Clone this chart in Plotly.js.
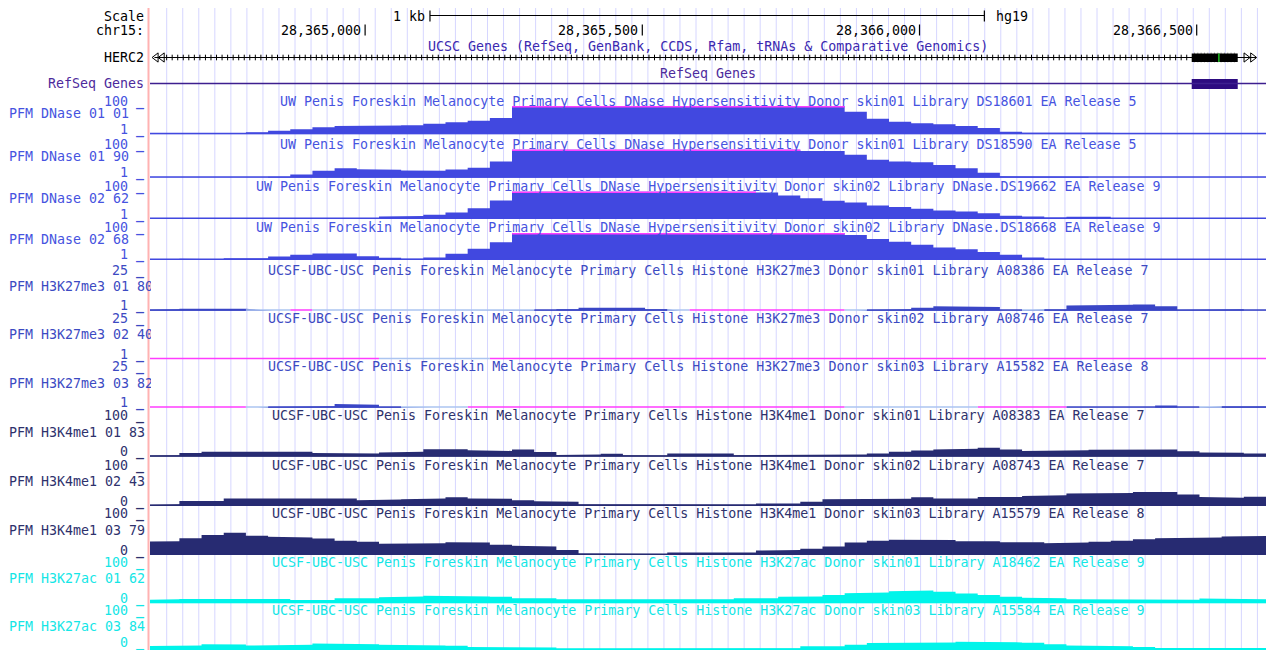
<!DOCTYPE html>
<html>
<head>
<meta charset="utf-8">
<script src="https://cdn.plot.ly/plotly-3.0.1.min.js"></script>
<style>
  html, body { margin: 0; padding: 0; background: #fff; overflow: hidden; }
  #browser { width: 1270px; height: 650px; }
</style>
</head>
<body>
<div id="browser"></div>
<script>
// ---- genome window (hg19, chr15) ----
const assembly = 'hg19';
const chrom = 'chr15';
const viewStart = 28364612;
const viewEnd = 28366625;
const coordTicks = [28365000, 28365500, 28366000, 28366500];
const scaleBarStart = 28365117;
const scaleBarLength = 1000;

// ---- gene annotation (HERC2, minus strand, runs past both window edges) ----
const geneName = 'HERC2';
const geneExons = [[28366491, 28366574]];
const geneMarks = [28366540];

// ---- signal tracks: fixed-step bins, null = no data ----
const binStart = 28364585;
const binSize = 40;

const dnase0101 = [3,3,3,2,3,8,13,19,26,30,30,32,33,38,43,48,58,
  100,100,100,100,100,100,100,100,100,100,100,100,100,100,100,
  80,55,45,40,36,30,23,10,6,4,6,6,3,2,1,1,1,1,1];
const dnase0190 = [1,1,1,1,1,2,4,12,25,34,31,29,26,25,30,36,58,
  100,100,100,100,100,100,100,100,100,100,100,100,100,
  95,95,82,64,58,55,46,34,18,6,6,6,4,1,1,1,1,1,1,1,1];
const dnase0262 = [1,1,1,1,1,1,1,1,1,1,4,10,12,16,24,40,68,
  100,100,100,100,100,100,100,100,100,100,100,
  96,86,76,67,60,50,44,38,32,28,22,13,10,6,9,9,1,1,1,1,1,1,1];
const dnase0268 = [1,1,6,4,7,7,14,20,25,25,15,9,6,10,24,42,66,
  100,100,100,100,100,100,100,100,100,100,100,100,100,100,100,
  93,78,68,57,47,40,30,20,10,3,1,1,1,1,1,1,1,1,1];
const k27me3Skin01 = [1.5,2,2.3,2.3,2.3,null,null,0,null,null,null,null,null,null,null,null,null,null,
  1.3,2,3,3,3,2,null,0,0,0,0,0,0,0,null,1.5,2,3,4,4,3.5,1.3,null,1.8,4.5,4.5,5,5.2,4,1.5,2,2,1.2];
const k27me3Skin02 = [0,0,0,0,0,0,0,0,0,0,0,null,null,null,null,null,0,0,0,0,0,0,0,0,0,0,
  0,0,0,0,0,0,0,0,0,0,0,0,0,0,0,0,0,0,0,0,0,0,0,0,0];
const k27me3Skin03 = [0,0,0,0,0,null,1.5,2,2,3.5,3,1.5,null,null,null,0,0,0,0,0,0,0,0,0,0,
  0,0,0,0,0,0,0,null,null,null,null,null,null,0,0,0,0,1.2,1.2,1.2,1.2,2.5,1.2,null,1.8,1.8];
const k4me1Skin01 = [3,4,10,14,14,14,14,14,10,9,9,12,14,21,21,18,16,20,13,5,6,8,4,3,9,9,9,
  4,4,4,4,4,6,9,14,17,20,22,25,20,16,16,18,19,20,20,20,15,12,11,9];
const k4me1Skin02 = [3,5,14,14,21,21,21,21,21,21,16,18,19,21,24,21,20,16,13,12,5,5,5,5,5,5,5,
  4,7,7,12,19,19,19,20,24,21,21,25,25,28,30,35,36,36,39,39,32,25,23,26];
const k4me1Skin03 = [36,38,46,55,61,53,50,48,45,39,36,31,30,32,35,34,28,25,23,14,4,2,2,3,7,
  7,7,7,12,14,17,23,34,39,42,43,41,38,38,35,35,32,34,36,39,43,46,47,48,51,52];
const k27acSkin01 = [9,11,12,12,12,12,12,9,9,14,14,17,19,21,21,19,18,14,14,11,9,9,9,9,9,
  11,11,14,14,18,19,23,28,30,33,35,32,27,23,18,15,14,11,11,11,11,11,10,13,12,11];
const k27acSkin03 = [11,11,13,17,16,13,15,15,19,19,17,15,15,13,12,9,9,9,7,4,3,3,3,3,3,
  3,3,3,3,5,11,11,15,20,22,22,22,24,22,22,21,17,13,11,11,9,6,6,6,6,6];

// ---- track labels ----
const trackNames = ['PFM DNase 01 01','PFM DNase 01 90','PFM DNase 02 62','PFM DNase 02 68',
  'PFM H3K27me3 01 80','PFM H3K27me3 02 40','PFM H3K27me3 03 82',
  'PFM H3K4me1 01 83','PFM H3K4me1 02 43','PFM H3K4me1 03 79',
  'PFM H3K27ac 01 62','PFM H3K27ac 03 84'];
const uwPrefix = 'UW Penis Foreskin Melanocyte Primary Cells DNase Hypersensitivity Donor ';
const ucsfPrefix = 'UCSF-UBC-USC Penis Foreskin Melanocyte Primary Cells Histone ';
const trackTitles = [
  uwPrefix + 'skin01 Library DS18601 EA Release 5',
  uwPrefix + 'skin01 Library DS18590 EA Release 5',
  uwPrefix + 'skin02 Library DNase.DS19662 EA Release 9',
  uwPrefix + 'skin02 Library DNase.DS18668 EA Release 9',
  ucsfPrefix + 'H3K27me3 Donor skin01 Library A08386 EA Release 7',
  ucsfPrefix + 'H3K27me3 Donor skin02 Library A08746 EA Release 7',
  ucsfPrefix + 'H3K27me3 Donor skin03 Library A15582 EA Release 8',
  ucsfPrefix + 'H3K4me1 Donor skin01 Library A08383 EA Release 7',
  ucsfPrefix + 'H3K4me1 Donor skin02 Library A08743 EA Release 7',
  ucsfPrefix + 'H3K4me1 Donor skin03 Library A15579 EA Release 8',
  ucsfPrefix + 'H3K27ac Donor skin01 Library A18462 EA Release 9',
  ucsfPrefix + 'H3K27ac Donor skin03 Library A15584 EA Release 9'];
const trackValues = [dnase0101, dnase0190, dnase0262, dnase0268,
  k27me3Skin01, k27me3Skin02, k27me3Skin03,
  k4me1Skin01, k4me1Skin02, k4me1Skin03, k27acSkin01, k27acSkin03];

// ---- styling per assay ----
const styles = {
  dnase:  {fill: '#4148e0', text: '#4653e0', lo: 1, hi: 100, nameShift: 0},
  k27me3: {fill: '#3a46c6', text: '#3c4ac2', lo: 1, hi: 25, nameShift: -2.5},
  k4me1:  {fill: '#272b72', text: '#2e316c', lo: 0, hi: 100, nameShift: -2.5},
  k27ac:  {fill: '#00f4ea', text: '#14e6e6', lo: 0, hi: 100, nameShift: -2.5}
};
const trackStyle = ['dnase','dnase','dnase','dnase','k27me3','k27me3','k27me3',
  'k4me1','k4me1','k4me1','k27ac','k27ac'];
// vertical extent of each track in pixels: [top, baseline]
const trackPx = [[106,134.3],[149.5,177.7],[191.5,219],[233,260],
  [275,310.7],[323.3,359.3],[371.7,407.7],
  [420.7,456.7],[470,506],[518.5,555],[567,603.3],[615.5,650]];

const W = 1270, H = 650, plotLeft = 150, plotWidth = 1116;
const paperX = px => (px - plotLeft) / plotWidth;
const paperY = px => 1 - px / H;
const clipColor = '#ff3cff';
const noDataColor = '#abc4f0';
const gridColor = 'rgb(214,214,255)';
const font = 'DejaVu Sans Mono, monospace';

function binSeries(values, pick) {
  const xs = [], ys = [];
  values.forEach((v, i) => {
    const s = binStart + i * binSize;
    const y = pick(v);
    xs.push(s, s + binSize);
    ys.push(y, y);
  });
  return {x: xs, y: ys};
}
// view-limit label: value followed by a heavier underscore marker
const limitLabel = v => v + ' <b>_</b>';

const traces = [];
const annotations = [];
const shapes = [];
const layout = {
  width: W, height: H,
  margin: {l: plotLeft, r: W - plotLeft - plotWidth, t: 0, b: 0},
  paper_bgcolor: '#ffffff', plot_bgcolor: 'rgba(0,0,0,0)',
  showlegend: false,
  font: {family: font, size: 13.3, color: '#000'},
  xaxis: {range: [viewStart, viewEnd], visible: false, fixedrange: true, anchor: 'y13'}
};

trackValues.forEach((vals, k) => {
  const st = styles[trackStyle[k]];
  const n = k + 1;
  const yref = 'y' + (n === 1 ? '' : n);
  const [top, base] = trackPx[k];
  const last = k === trackValues.length - 1;
  layout['yaxis' + (n === 1 ? '' : n)] = {
    domain: [paperY(base), paperY(top)], range: [st.lo, st.hi],
    visible: false, fixedrange: true, anchor: 'x'
  };
  const fillS = binSeries(vals, v => v);
  traces.push({x: fillS.x, y: fillS.y, xaxis: 'x', yaxis: yref, mode: 'lines',
    line: {width: 0, color: st.fill}, fill: 'tozeroy', fillcolor: st.fill, hoverinfo: 'skip'});
  const baseData = binSeries(vals, v => (v !== null && v >= st.lo) ? st.lo : null);
  traces.push({x: baseData.x, y: baseData.y, xaxis: 'x', yaxis: yref, mode: 'lines',
    line: {width: 3, color: st.fill}, hoverinfo: 'skip'});
  const baseLow = binSeries(vals, v => (v !== null && v < st.lo) ? st.lo : null);
  traces.push({x: baseLow.x, y: baseLow.y, xaxis: 'x', yaxis: yref, mode: 'lines',
    line: {width: 3, color: clipColor}, hoverinfo: 'skip'});
  const baseNone = binSeries(vals, v => v === null ? st.lo : null);
  traces.push({x: baseNone.x, y: baseNone.y, xaxis: 'x', yaxis: yref, mode: 'lines',
    line: {width: 3, color: noDataColor}, hoverinfo: 'skip'});
  const clipTop = binSeries(vals, v => (v !== null && v >= st.hi) ? st.hi : null);
  traces.push({x: clipTop.x, y: clipTop.y, xaxis: 'x', yaxis: yref, mode: 'lines',
    line: {width: 3, color: clipColor}, hoverinfo: 'skip'});

  // title over the track, left name and the view-limit labels
  annotations.push({xref: 'paper', x: 0.5, yref: yref, y: st.hi, yshift: 5,
    text: trackTitles[k], showarrow: false, xanchor: 'center', yanchor: 'middle',
    font: {color: st.text}});
  annotations.push({xref: 'paper', x: paperX(7), yref: yref, y: st.lo + 0.75 * (st.hi - st.lo),
    yshift: st.nameShift, text: trackNames[k], showarrow: false, xanchor: 'left', yanchor: 'middle',
    width: 142, align: 'left', font: {color: st.text}});
  annotations.push({xref: 'paper', x: paperX(146), yref: yref, y: st.hi, yshift: 4.5,
    text: limitLabel(st.hi), showarrow: false, xanchor: 'right', yanchor: 'middle',
    font: {color: st.text}});
  annotations.push({xref: 'paper', x: paperX(146), yref: yref, y: st.lo, yshift: last ? 7.5 : 4.5,
    text: limitLabel(st.lo), showarrow: false, xanchor: 'right', yanchor: 'middle',
    font: {color: st.text}});
});

// ---- header rows (ruler, gene tracks) on a pixel-row axis ----
layout.yaxis13 = {domain: [paperY(92), 1], range: [92, 0], visible: false, fixedrange: true, anchor: 'x'};
const hdr = 'y13';
const row = {scale: 15.5, coords: 30, genesTitle: 46, gene: 57.5, refTitle: 73, ref: 83.5};
const fmt = n => String(n).replace(/\B(?=(\d{3})+(?!\d))/g, ',');

annotations.push({xref: 'paper', x: paperX(146), yref: hdr, y: row.scale + 0.5, text: 'Scale',
  showarrow: false, xanchor: 'right', yanchor: 'middle'});
annotations.push({xref: 'paper', x: paperX(146), yref: hdr, y: row.coords, text: chrom + ':',
  showarrow: false, xanchor: 'right', yanchor: 'middle'});
annotations.push({xref: 'x', x: scaleBarStart, xshift: -3, yref: hdr, y: row.scale + 0.5,
  text: (scaleBarLength / 1000) + ' kb', showarrow: false, xanchor: 'right', yanchor: 'middle'});
annotations.push({xref: 'x', x: scaleBarStart + scaleBarLength, xshift: 10, yref: hdr, y: row.scale + 0.5,
  text: assembly, showarrow: false, xanchor: 'left', yanchor: 'middle'});
shapes.push({type: 'line', xref: 'x', yref: hdr, x0: scaleBarStart, x1: scaleBarStart + scaleBarLength,
  y0: row.scale, y1: row.scale, line: {color: '#000', width: 1}});
[scaleBarStart, scaleBarStart + scaleBarLength].forEach(p => shapes.push({type: 'line', xref: 'x', yref: hdr,
  x0: p, x1: p, y0: row.scale - 5, y1: row.scale + 6, line: {color: '#000', width: 1.2}}));
coordTicks.forEach(t => {
  annotations.push({xref: 'x', x: t, xshift: -2, yref: hdr, y: row.coords, text: fmt(t),
    showarrow: false, xanchor: 'right', yanchor: 'middle'});
  shapes.push({type: 'line', xref: 'x', yref: hdr, x0: t, x1: t, y0: row.coords - 5.5, y1: row.coords + 5.5,
    line: {color: '#000', width: 1.2}});
});

annotations.push({xref: 'paper', x: 0.5, yref: hdr, y: row.genesTitle,
  text: 'UCSC Genes (RefSeq, GenBank, CCDS, Rfam, tRNAs & Comparative Genomics)',
  showarrow: false, xanchor: 'center', yanchor: 'middle', font: {color: '#3b28b0'}});
annotations.push({xref: 'paper', x: paperX(146), yref: hdr, y: row.gene, text: geneName,
  showarrow: false, xanchor: 'right', yanchor: 'middle'});
annotations.push({xref: 'paper', x: 0.5, yref: hdr, y: row.refTitle, text: 'RefSeq Genes',
  showarrow: false, xanchor: 'center', yanchor: 'middle', font: {color: '#4d2a9c'}});
annotations.push({xref: 'paper', x: paperX(146), yref: hdr, y: row.ref, text: 'RefSeq Genes',
  showarrow: false, xanchor: 'right', yanchor: 'middle', font: {color: '#4d2a9c'}});

// UCSC gene: intron line with strand ticks, exon block, continuation arrows
shapes.push({type: 'line', xref: 'x', yref: hdr, x0: viewStart + 8, x1: viewEnd - 18,
  y0: row.gene, y1: row.gene, line: {color: '#000', width: 1}});
const intronTicks = [];
for (let p = viewStart + 30; p < viewEnd - 45; p += 10) {
  if (!geneExons.some(e => p > e[0] - 4 && p < e[1] + 4)) intronTicks.push(p);
}
traces.push({x: intronTicks, y: intronTicks.map(() => row.gene), xaxis: 'x', yaxis: hdr, mode: 'markers',
  marker: {symbol: 'line-ns', size: 4, color: '#000', line: {width: 1, color: '#000'}}, hoverinfo: 'skip'});
geneExons.forEach(e => {
  shapes.push({type: 'rect', xref: 'x', yref: hdr, x0: e[0], x1: e[1], y0: row.gene - 4, y1: row.gene + 4.5,
    fillcolor: '#000', line: {width: 0}});
  shapes.push({type: 'rect', xref: 'x', yref: hdr, x0: e[0], x1: e[1], y0: row.ref - 4.5, y1: row.ref + 5.5,
    fillcolor: '#2d0b80', line: {width: 0}});
  const stripes = [];
  for (let p = e[0] + 5; p < e[1] - 2; p += 6) stripes.push(p);
  traces.push({x: stripes, y: stripes.map(() => row.gene), xaxis: 'x', yaxis: hdr, mode: 'markers',
    marker: {symbol: 'line-ns', size: 7, color: '#9a9a9a', line: {width: 1, color: '#9a9a9a'}}, hoverinfo: 'skip'});
});
geneMarks.forEach(p => shapes.push({type: 'line', xref: 'x', yref: hdr, x0: p, x1: p,
  y0: row.gene - 4, y1: row.gene + 4.5, line: {color: '#22c022', width: 1.5}}));
traces.push({x: [viewStart + 11, viewStart + 22], y: [row.gene, row.gene], xaxis: 'x', yaxis: hdr,
  mode: 'markers', marker: {symbol: 'triangle-left-open', size: 8, color: '#000', line: {width: 1, color: '#000'}}, hoverinfo: 'skip'});
traces.push({x: [viewEnd - 36, viewEnd - 24], y: [row.gene, row.gene], xaxis: 'x', yaxis: hdr,
  mode: 'markers', marker: {symbol: 'triangle-right-open', size: 8, color: '#000', line: {width: 1, color: '#000'}}, hoverinfo: 'skip'});
shapes.push({type: 'line', xref: 'x', yref: hdr, x0: viewStart, x1: viewEnd,
  y0: row.ref, y1: row.ref, line: {color: '#3d1f8f', width: 1.3}});

// base-position guide lines and the left border
for (let px = 166.7; px < plotLeft + plotWidth - 1; px += 16.04) {
  shapes.push({type: 'line', xref: 'paper', yref: 'paper', x0: paperX(px), x1: paperX(px),
    y0: 0, y1: paperY(8), layer: 'below', line: {color: gridColor, width: 1}});
}
shapes.push({type: 'line', xref: 'paper', yref: 'paper', x0: paperX(148.5), x1: paperX(148.5),
  y0: 0, y1: paperY(8), layer: 'below', line: {color: 'rgb(255,178,178)', width: 2}});

layout.annotations = annotations;
layout.shapes = shapes;

Plotly.newPlot('browser', traces, layout, {staticPlot: true, displayModeBar: false});
</script>
</body>
</html>
